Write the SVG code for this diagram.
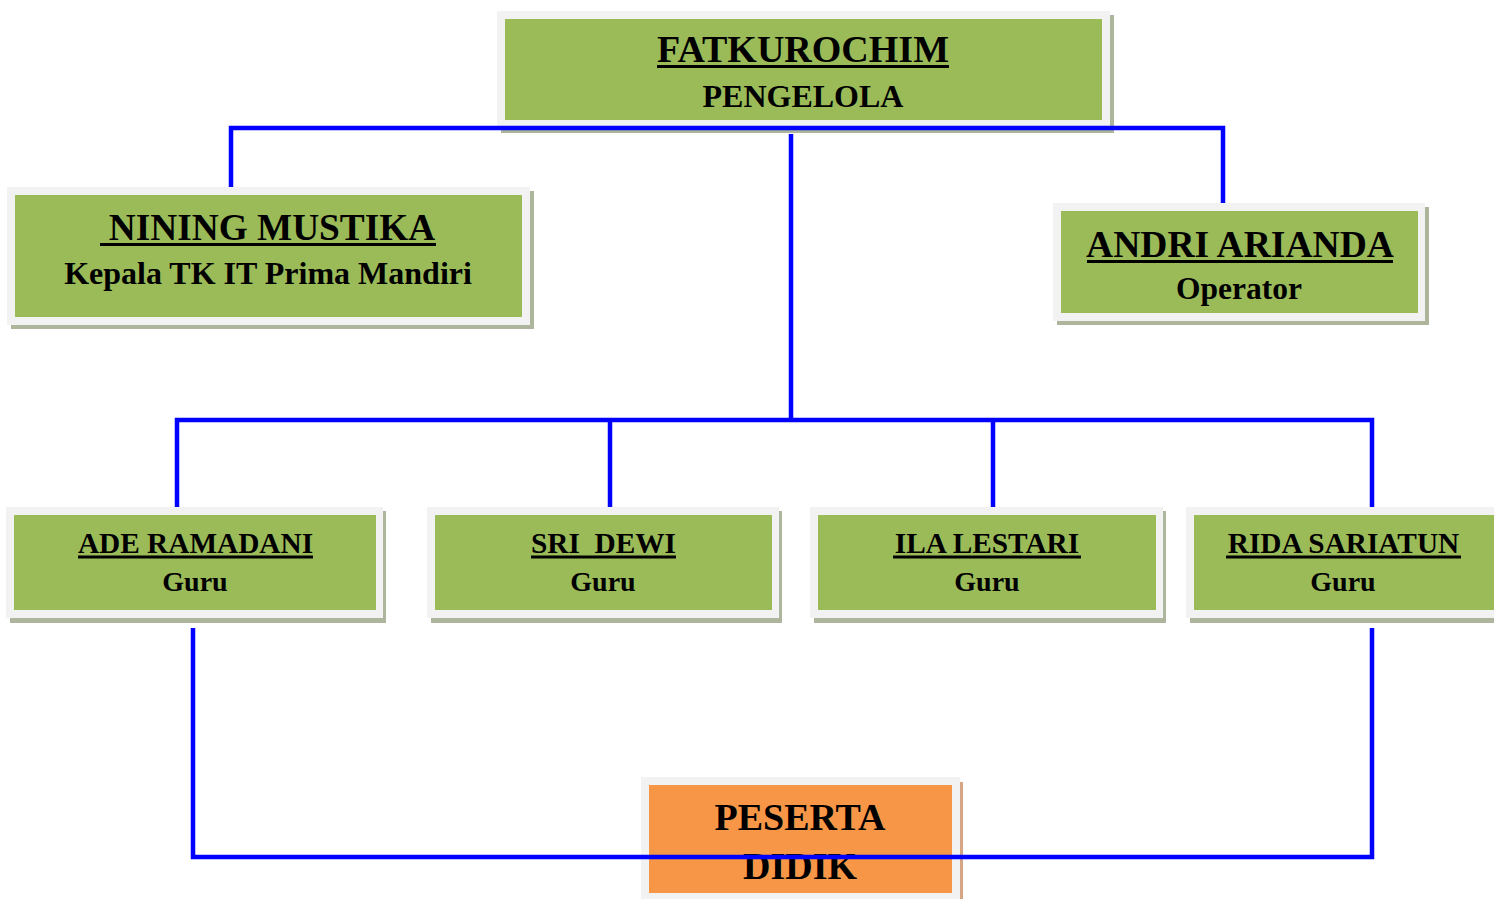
<svg xmlns="http://www.w3.org/2000/svg" width="1494" height="899" viewBox="0 0 1494 899">
<style>
.sh{fill:#adb69c}
.shO{fill:#d6a584}
.fr{fill:#f2f2f2}
.g{fill:#9bbb59}
.o{fill:#f79646}
.t{font-family:"Liberation Serif","Times New Roman",serif;font-weight:bold;fill:#000;text-anchor:middle}
.gn{font-size:29.3px}
.gs{font-size:28px}
.ul{stroke:#000;stroke-width:3}
.c{stroke:#0000ff;stroke-width:4.5;fill:none}
</style>
<rect width="1494" height="899" fill="#fff"/>
<g id="n-fatkurochim">
<rect class="sh" x="501" y="15" width="613" height="118"/>
<rect class="fr" x="497" y="11" width="613" height="118"/>
<rect class="g" x="505" y="19" width="597" height="101"/>
<text class="t" x="803" y="62" font-size="38">FATKUROCHIM</text>
<line class="ul" x1="657" y1="66.5" x2="949" y2="66.5"/>
<text class="t" x="803" y="107" font-size="32">PENGELOLA</text>
</g>
<g id="n-nining">
<rect class="sh" x="11" y="191" width="523" height="138"/>
<rect class="fr" x="7" y="187" width="523" height="138"/>
<rect class="g" x="15" y="195" width="507" height="122"/>
<text class="t" x="272" y="240" font-size="37.3">NINING MUSTIKA</text>
<line class="ul" x1="100" y1="244.5" x2="436" y2="244.5"/>
<text class="t" x="268" y="284" font-size="32">Kepala TK IT Prima Mandiri</text>
</g>
<g id="n-andri">
<rect class="sh" x="1057" y="207" width="372" height="118"/>
<rect class="fr" x="1053" y="203" width="372" height="118"/>
<rect class="g" x="1061" y="211" width="357" height="102"/>
<text class="t" x="1240" y="257" font-size="37.6">ANDRI ARIANDA</text>
<line class="ul" x1="1087" y1="261.5" x2="1393" y2="261.5"/>
<text class="t" x="1239" y="299" font-size="31.5">Operator</text>
</g>
<g id="n-ade">
<rect class="sh" x="10" y="511" width="376" height="112"/>
<rect class="fr" x="6" y="507" width="377" height="111"/>
<rect class="g" x="14" y="515" width="362" height="95"/>
<text class="t gn" x="195.5" y="553">ADE RAMADANI</text>
<line class="ul" x1="78" y1="557" x2="313" y2="557"/>
<text class="t gs" x="195" y="591">Guru</text>
</g>
<g id="n-sri">
<rect class="sh" x="431" y="511" width="351" height="112"/>
<rect class="fr" x="427" y="507" width="352" height="111"/>
<rect class="g" x="435" y="515" width="337" height="95"/>
<text class="t gn" x="603.5" y="553" xml:space="preserve">SRI  DEWI</text>
<line class="ul" x1="531" y1="557" x2="676" y2="557"/>
<text class="t gs" x="603" y="591">Guru</text>
</g>
<g id="n-ila">
<rect class="sh" x="814" y="511" width="352" height="112"/>
<rect class="fr" x="810" y="507" width="353" height="111"/>
<rect class="g" x="818" y="515" width="338" height="95"/>
<text class="t gn" x="987" y="553">ILA LESTARI</text>
<line class="ul" x1="893" y1="557" x2="1081" y2="557"/>
<text class="t gs" x="987" y="591">Guru</text>
</g>
<g id="n-rida">
<rect class="sh" x="1190" y="511" width="310" height="112"/>
<rect class="fr" x="1186" y="507" width="310" height="111"/>
<rect class="g" x="1194" y="515" width="302" height="95"/>
<text class="t gn" x="1343.5" y="553">RIDA SARIATUN</text>
<line class="ul" x1="1226" y1="557" x2="1461" y2="557"/>
<text class="t gs" x="1343" y="591">Guru</text>
</g>
<g id="n-peserta">
<rect class="shO" x="645" y="782" width="318" height="120"/>
<rect class="fr" x="641" y="777" width="319" height="122"/>
<rect class="o" x="649" y="785" width="303" height="108"/>
<text class="t" x="800" y="830" font-size="38">PESERTA</text>
<text class="t" x="800" y="879" font-size="38">DIDIK</text>
</g>
<g id="connectors">
<polyline class="c" points="231,187 231,128 1223,128 1223,203"/>
<line class="c" x1="791" y1="134" x2="791" y2="420"/>
<polyline class="c" points="177,507 177,420 1372,420 1372,507"/>
<line class="c" x1="610" y1="420" x2="610" y2="507"/>
<line class="c" x1="993" y1="420" x2="993" y2="507"/>
<polyline class="c" points="193,628 193,857 1372,857 1372,628"/>
</g>
</svg>
